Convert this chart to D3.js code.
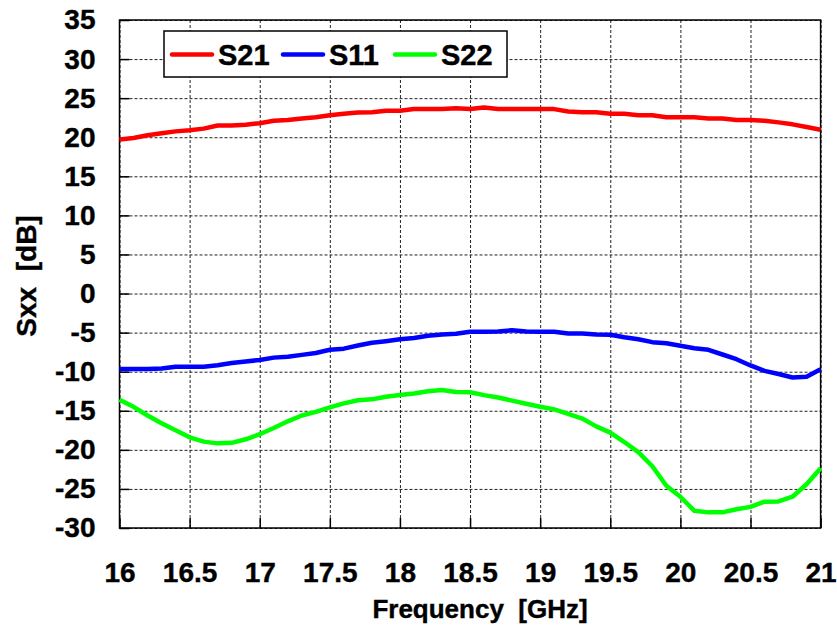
<!DOCTYPE html>
<html><head><meta charset="utf-8">
<script src="https://cdn.jsdelivr.net/npm/d3@7"></script>
<style>
html,body{margin:0;padding:0;background:#fff;}
svg{display:block;font-family:"Liberation Sans",Arial,Helvetica,sans-serif;font-weight:bold;}
</style></head>
<body><svg id="c" width="837" height="625"></svg>
<script>
const freq = [16.0,16.1,16.2,16.3,16.4,16.5,16.6,16.7,16.8,16.9,17.0,17.1,17.2,17.3,17.4,17.5,17.6,17.7,17.8,17.9,18.0,18.1,18.2,18.3,18.4,18.5,18.6,18.7,18.8,18.9,19.0,19.1,19.2,19.3,19.4,19.5,19.6,19.7,19.8,19.9,20.0,20.1,20.2,20.3,20.4,20.5,20.6,20.7,20.8,20.9,21.0];
const s21 = [19.7,19.9,20.25,20.5,20.75,20.9,21.1,21.5,21.5,21.6,21.8,22.1,22.2,22.4,22.55,22.8,23.0,23.15,23.2,23.4,23.4,23.6,23.6,23.6,23.7,23.6,23.8,23.6,23.6,23.6,23.6,23.6,23.3,23.2,23.2,23.0,23.0,22.8,22.8,22.55,22.55,22.55,22.4,22.4,22.2,22.2,22.1,21.9,21.65,21.3,20.95];
const s11 = [-9.66,-9.66,-9.66,-9.6,-9.36,-9.36,-9.36,-9.18,-8.9,-8.7,-8.5,-8.2,-8.1,-7.85,-7.6,-7.2,-7.05,-6.65,-6.3,-6.1,-5.86,-5.7,-5.4,-5.25,-5.15,-4.88,-4.88,-4.85,-4.7,-4.85,-4.88,-4.88,-5.1,-5.1,-5.25,-5.27,-5.6,-5.85,-6.22,-6.35,-6.68,-7.0,-7.2,-7.8,-8.4,-9.2,-9.9,-10.3,-10.75,-10.64,-9.7];
const s22 = [-13.6,-14.5,-15.6,-16.6,-17.5,-18.4,-18.95,-19.17,-19.1,-18.65,-18.0,-17.2,-16.35,-15.6,-15.15,-14.56,-14.05,-13.65,-13.54,-13.2,-12.98,-12.8,-12.5,-12.34,-12.6,-12.64,-13.0,-13.3,-13.7,-14.1,-14.48,-14.82,-15.4,-16.0,-17.0,-17.8,-19.0,-20.3,-22.1,-24.6,-26.0,-27.8,-28.0,-28.0,-27.6,-27.3,-26.63,-26.6,-26.0,-24.4,-22.36];
const seriesNames = ["S21","S11","S22"];
const seriesColors = ["#ff0000","#0000ff","#00ff00"];
const xTicks = [16,16.5,17,17.5,18,18.5,19,19.5,20,20.5,21];
const yTicks = [35,30,25,20,15,10,5,0,-5,-10,-15,-20,-25,-30];
const xTitle = "Frequency  [GHz]";
const yTitle = "Sxx  [dB]";

const svg = d3.select("#c");
const L = 119.5, R = 820.6, T = 20, B = 528;
const x = d3.scaleLinear().domain([16,21]).range([L,R]);
const y = d3.scaleLinear().domain([-30,35]).range([B,T]);

// grid
const gridY = svg.append("g").attr("transform",`translate(${L},0)`)
  .call(d3.axisLeft(y).tickValues(yTicks).tickSize(-(R-L)).tickFormat(""));
const gridX = svg.append("g").attr("transform",`translate(0,${B})`)
  .call(d3.axisBottom(x).tickValues(xTicks).tickSize(-(B-T)).tickFormat(""));
[gridY,gridX].forEach(g=>{
  g.select(".domain").remove();
  g.selectAll(".tick line").attr("stroke","#222").attr("stroke-width",1).attr("stroke-dasharray","3,2");
});

// inner solid ticks + labels
const axY = svg.append("g").attr("transform",`translate(${L},0)`)
  .call(d3.axisLeft(y).tickValues(yTicks).tickSize(-10).tickPadding(24).tickFormat(d=>String(d)));
const axX = svg.append("g").attr("transform",`translate(0,${B})`)
  .call(d3.axisBottom(x).tickValues(xTicks).tickSize(-10).tickPadding(34).tickFormat(d=>String(d)));
[axY,axX].forEach(g=>{
  g.select(".domain").remove();
  g.selectAll(".tick line").attr("stroke","#000").attr("stroke-width",1.5);
  g.selectAll(".tick text").attr("fill","#000").attr("stroke","#000").attr("stroke-width",0.4)
   .style("font-size","28px").style("font-weight","bold")
   .style("font-family",'"Liberation Sans",Arial,sans-serif');
});

// frame
svg.append("rect").attr("x",L).attr("y",T).attr("width",R-L).attr("height",B-T)
  .attr("fill","none").attr("stroke","#000").attr("stroke-width",1.5);

// lines
const data = [s21,s11,s22];
const line = d3.line().x((d,i)=>x(freq[i])).y(d=>y(d));
data.forEach((s,k)=>{
  svg.append("path").datum(s).attr("d",line).attr("fill","none")
    .attr("stroke",seriesColors[k]).attr("stroke-width",4.5).attr("stroke-linejoin","round");
});

// legend
svg.append("rect").attr("x",164).attr("y",31).attr("width",343).attr("height",46)
  .attr("fill","#fff").attr("stroke","#000").attr("stroke-width",1.5);
const legX = [172,283,395];
seriesNames.forEach((n,k)=>{
  svg.append("line").attr("x1",legX[k]).attr("x2",legX[k]+40).attr("y1",54.5).attr("y2",54.5)
    .attr("stroke",seriesColors[k]).attr("stroke-width",4.5).attr("stroke-linecap","round");
  svg.append("text").attr("x",legX[k]+46).attr("y",65).text(n)
    .attr("stroke","#000").attr("stroke-width",0.4)
    .style("font-size","29px").attr("fill","#000");
});

// titles
svg.append("text").attr("x",480).attr("y",618).attr("text-anchor","middle")
  .attr("stroke","#000").attr("stroke-width",0.4)
  .style("font-size","26px").style("white-space","pre").text(xTitle);
svg.append("text").attr("transform","translate(36,276) rotate(-90)").attr("text-anchor","middle")
  .attr("stroke","#000").attr("stroke-width",0.4)
  .style("font-size","28px").style("white-space","pre").text(yTitle);
</script></body></html>
